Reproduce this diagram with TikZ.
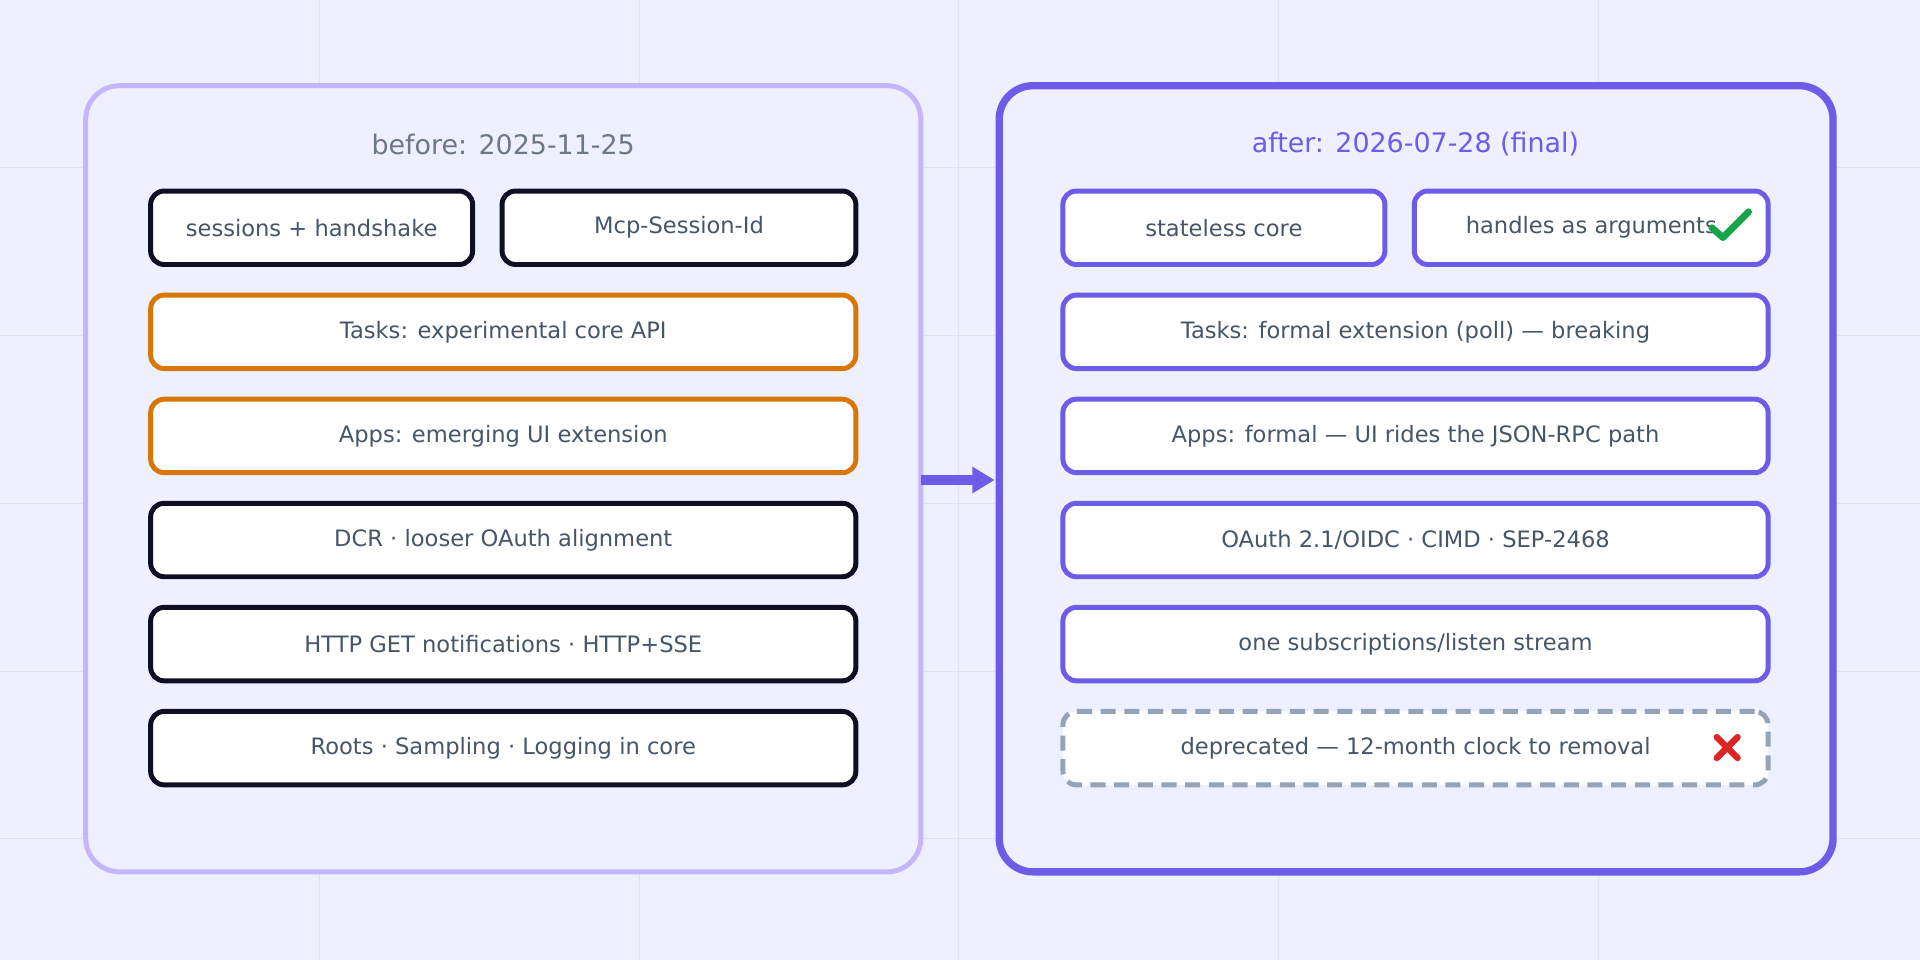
\documentclass[tikz,border=0pt]{standalone}
\usepackage{fontspec}
\setmainfont{DejaVu Sans}
\usetikzlibrary{positioning}
\definecolor{bgc}{HTML}{EEF0FF}
\definecolor{gridc}{HTML}{E0E3F5}
\definecolor{lilac}{HTML}{C4B5FD}
\definecolor{violet}{HTML}{6C5CE7}
\definecolor{ink}{HTML}{0F0F23}
\definecolor{amber}{HTML}{D97706}
\definecolor{txt}{HTML}{475569}
\definecolor{slate}{HTML}{94A3B8}
\definecolor{okgreen}{HTML}{16A34A}
\definecolor{badred}{HTML}{DC2626}
\begin{document}
\begin{tikzpicture}[x=0.02cm,y=-0.02cm,
    panel/.style={rounded corners=0.55cm,fill=bgc},
    item/.style={draw,line width=2.3pt,rounded corners=0.22cm,fill=white,
      minimum height=1.2cm,text=txt,font=\fontsize{10.5}{12}\selectfont},
    wide/.style={item,minimum width=11.52cm},
    half/.style={item,minimum width=#1},
    old/.style={draw=ink},
    exp/.style={draw=amber},
    new/.style={draw=violet},
    gone/.style={draw=slate,dashed,dash pattern=on 7pt off 4pt}]

  \fill[bgc] (0,0) rectangle (1568,784);
  \useasboundingbox (0,0) rectangle (1568,784);
  \foreach \x in {261,522,783,1044,1305}
    \draw[gridc,line width=0.4pt] (\x,0) -- (\x,784);
  \foreach \y in {137,274,411,548,685}
    \draw[gridc,line width=0.4pt] (0,\y) -- (1568,\y);

  % panels
  \draw[panel,draw=lilac,line width=2.3pt] (70,70) rectangle (752,712);
  \draw[panel,draw=violet,line width=3.4pt] (816,70) rectangle (1497,712);
  \node[text=txt!80,font=\fontsize{12.5}{14}\selectfont] (tbefore) at (411,118) {before: 2025-11-25};
  \node[text=violet,font=\fontsize{12.5}{14}\selectfont] (tafter) at (1156,118) {after: 2026-07-28 (final)};

  % before
  \node[half=5.26cm,old] (b1) at (254.5,186) {sessions + handshake};
  \node[half=5.78cm,old] (b2) at (554.5,186) {Mcp-Session-Id};
  \node[wide,exp] (b3) at (411,271) {Tasks: experimental core API};
  \node[wide,exp] (b4) at (411,356) {Apps: emerging UI extension};
  \node[wide,old] (b5) at (411,441) {DCR · looser OAuth alignment};
  \node[wide,old] (b6) at (411,526) {HTTP GET notifications · HTTP+SSE};
  \node[wide,old] (b7) at (411,611) {Roots · Sampling · Logging in core};

  % after
  \node[half=5.26cm,new] (a1) at (999.5,186) {stateless core};
  \node[half=5.78cm,new] (a2) at (1299.5,186) {handles as arguments};
  \node[wide,new] (a3) at (1156,271) {Tasks: formal extension (poll) — breaking};
  \node[wide,new] (a4) at (1156,356) {Apps: formal — UI rides the JSON-RPC path};
  \node[wide,new] (a5) at (1156,441) {OAuth 2.1/OIDC · CIMD · SEP-2468};
  \node[wide,new] (a6) at (1156,526) {one subscriptions/listen stream};
  \node[wide,gone] (a7) at (1156,611) {deprecated — 12-month clock to removal};

  % marks
  \draw[okgreen,line width=3.2pt,line cap=round,line join=round]
    (1398,186) -- (1407,194) -- (1428,173);
  \draw[badred,line width=3pt,line cap=round]
    (1402,602) -- (1419,619) (1419,602) -- (1402,619);

  % arrow
  \coordinate (ain) at (752,392);
  \coordinate (aout) at (812,392);
  \draw[violet,line width=5pt] (ain) -- (796,392);
  \fill[violet] (794,381) -- (aout) -- (794,403) -- cycle;
\end{tikzpicture}
\end{document}
